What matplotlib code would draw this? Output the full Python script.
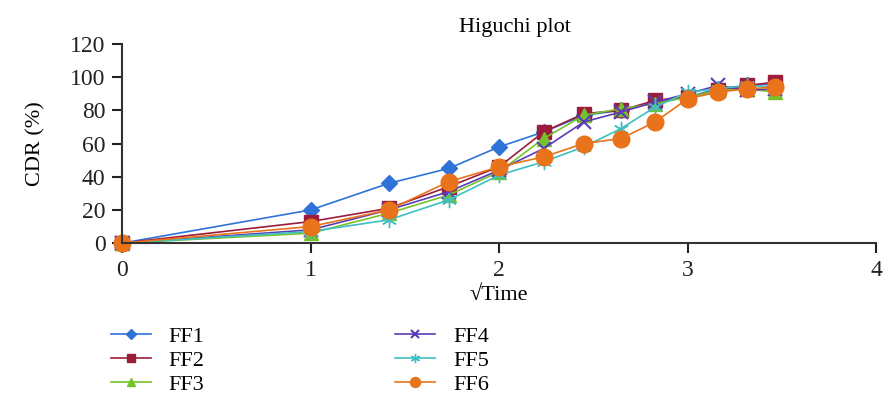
import numpy as np
import matplotlib.pyplot as plt

plt.rcParams['font.family'] = ['Liberation Serif', 'DejaVu Serif']

# sqrt(time) points
sqrt_time = [0, 1, 1.414, 1.732, 2, 2.236, 2.449, 2.646, 2.828, 3, 3.162, 3.317, 3.464]

ff1 = [0, 20, 36, 45, 58, 67, 77, 80, 85, 88, 93, 95, 96]
ff2 = [0, 13, 21, 34, 46, 67, 78, 80, 86, 88, 92, 95, 97]
ff3 = [0, 6, 18, 29, 43, 63, 77, 81, 84, 88, 92, 93, 91]
ff4 = [0, 8, 20, 31, 44, 57, 73, 79, 85, 90, 95, 92, 93]
ff5 = [0, 7, 14, 26, 41, 49, 58, 69, 82, 91, 93, 95, 94]
ff6 = [0, 10, 20, 37, 46, 52, 60, 63, 73, 87, 91, 93, 94]

series = [
    ("FF1", ff1, "#2f72d8", "D", 8),
    ("FF2", ff2, "#9c1c3c", "s", 10),
    ("FF3", ff3, "#76c22a", "^", 10),
    ("FF4", ff4, "#5a3cb8", "x", 10),
    ("FF5", ff5, "#3fbfc4", (6, 2, 0), 11),
    ("FF6", ff6, "#e8731a", "o", 12),
]

fig = plt.figure(figsize=(8.85, 3.96), dpi=100)
ax = fig.add_axes([0.138, 0.386, 0.852, 0.503])

handles = []
for name, vals, col, mk, ms in series:
    h, = ax.plot(sqrt_time, vals, color=col, marker=mk, markersize=ms,
                 linewidth=1.2, markeredgewidth=1.5 if mk == "x" else 1.0,
                 markeredgecolor=col, label=name, clip_on=False)
    handles.append(h)

ax.set_xlim(0, 4)
ax.set_ylim(0, 120)
ax.set_xticks([0, 1, 2, 3, 4])
ax.set_yticks(np.arange(0, 121, 20))
for s in ["top", "right"]:
    ax.spines[s].set_visible(False)
for s in ["left", "bottom"]:
    ax.spines[s].set_linewidth(1.5)
    ax.spines[s].set_color("#333333")
ax.tick_params(labelsize=17, width=1.5, length=7, colors="#222222")
ax.tick_params(axis="x", pad=5)
ax.tick_params(axis="y", pad=5)
ax.set_xlabel("√Time", fontsize=16, labelpad=4)
ax.set_ylabel("CDR (%)", fontsize=16, labelpad=18)

fig.text(0.582, 0.93, "Higuchi plot", fontsize=16, ha="center", va="center")

leg = fig.legend(handles=handles, loc="upper left", bbox_to_anchor=(0.125, 0.175),
                 ncol=2, frameon=False, fontsize=16, markerscale=0.6,
                 handlelength=1.8, handletextpad=0.8, columnspacing=8.6,
                 labelspacing=0.15, borderaxespad=0, borderpad=0)

fig.savefig("out.png", dpi=100)
